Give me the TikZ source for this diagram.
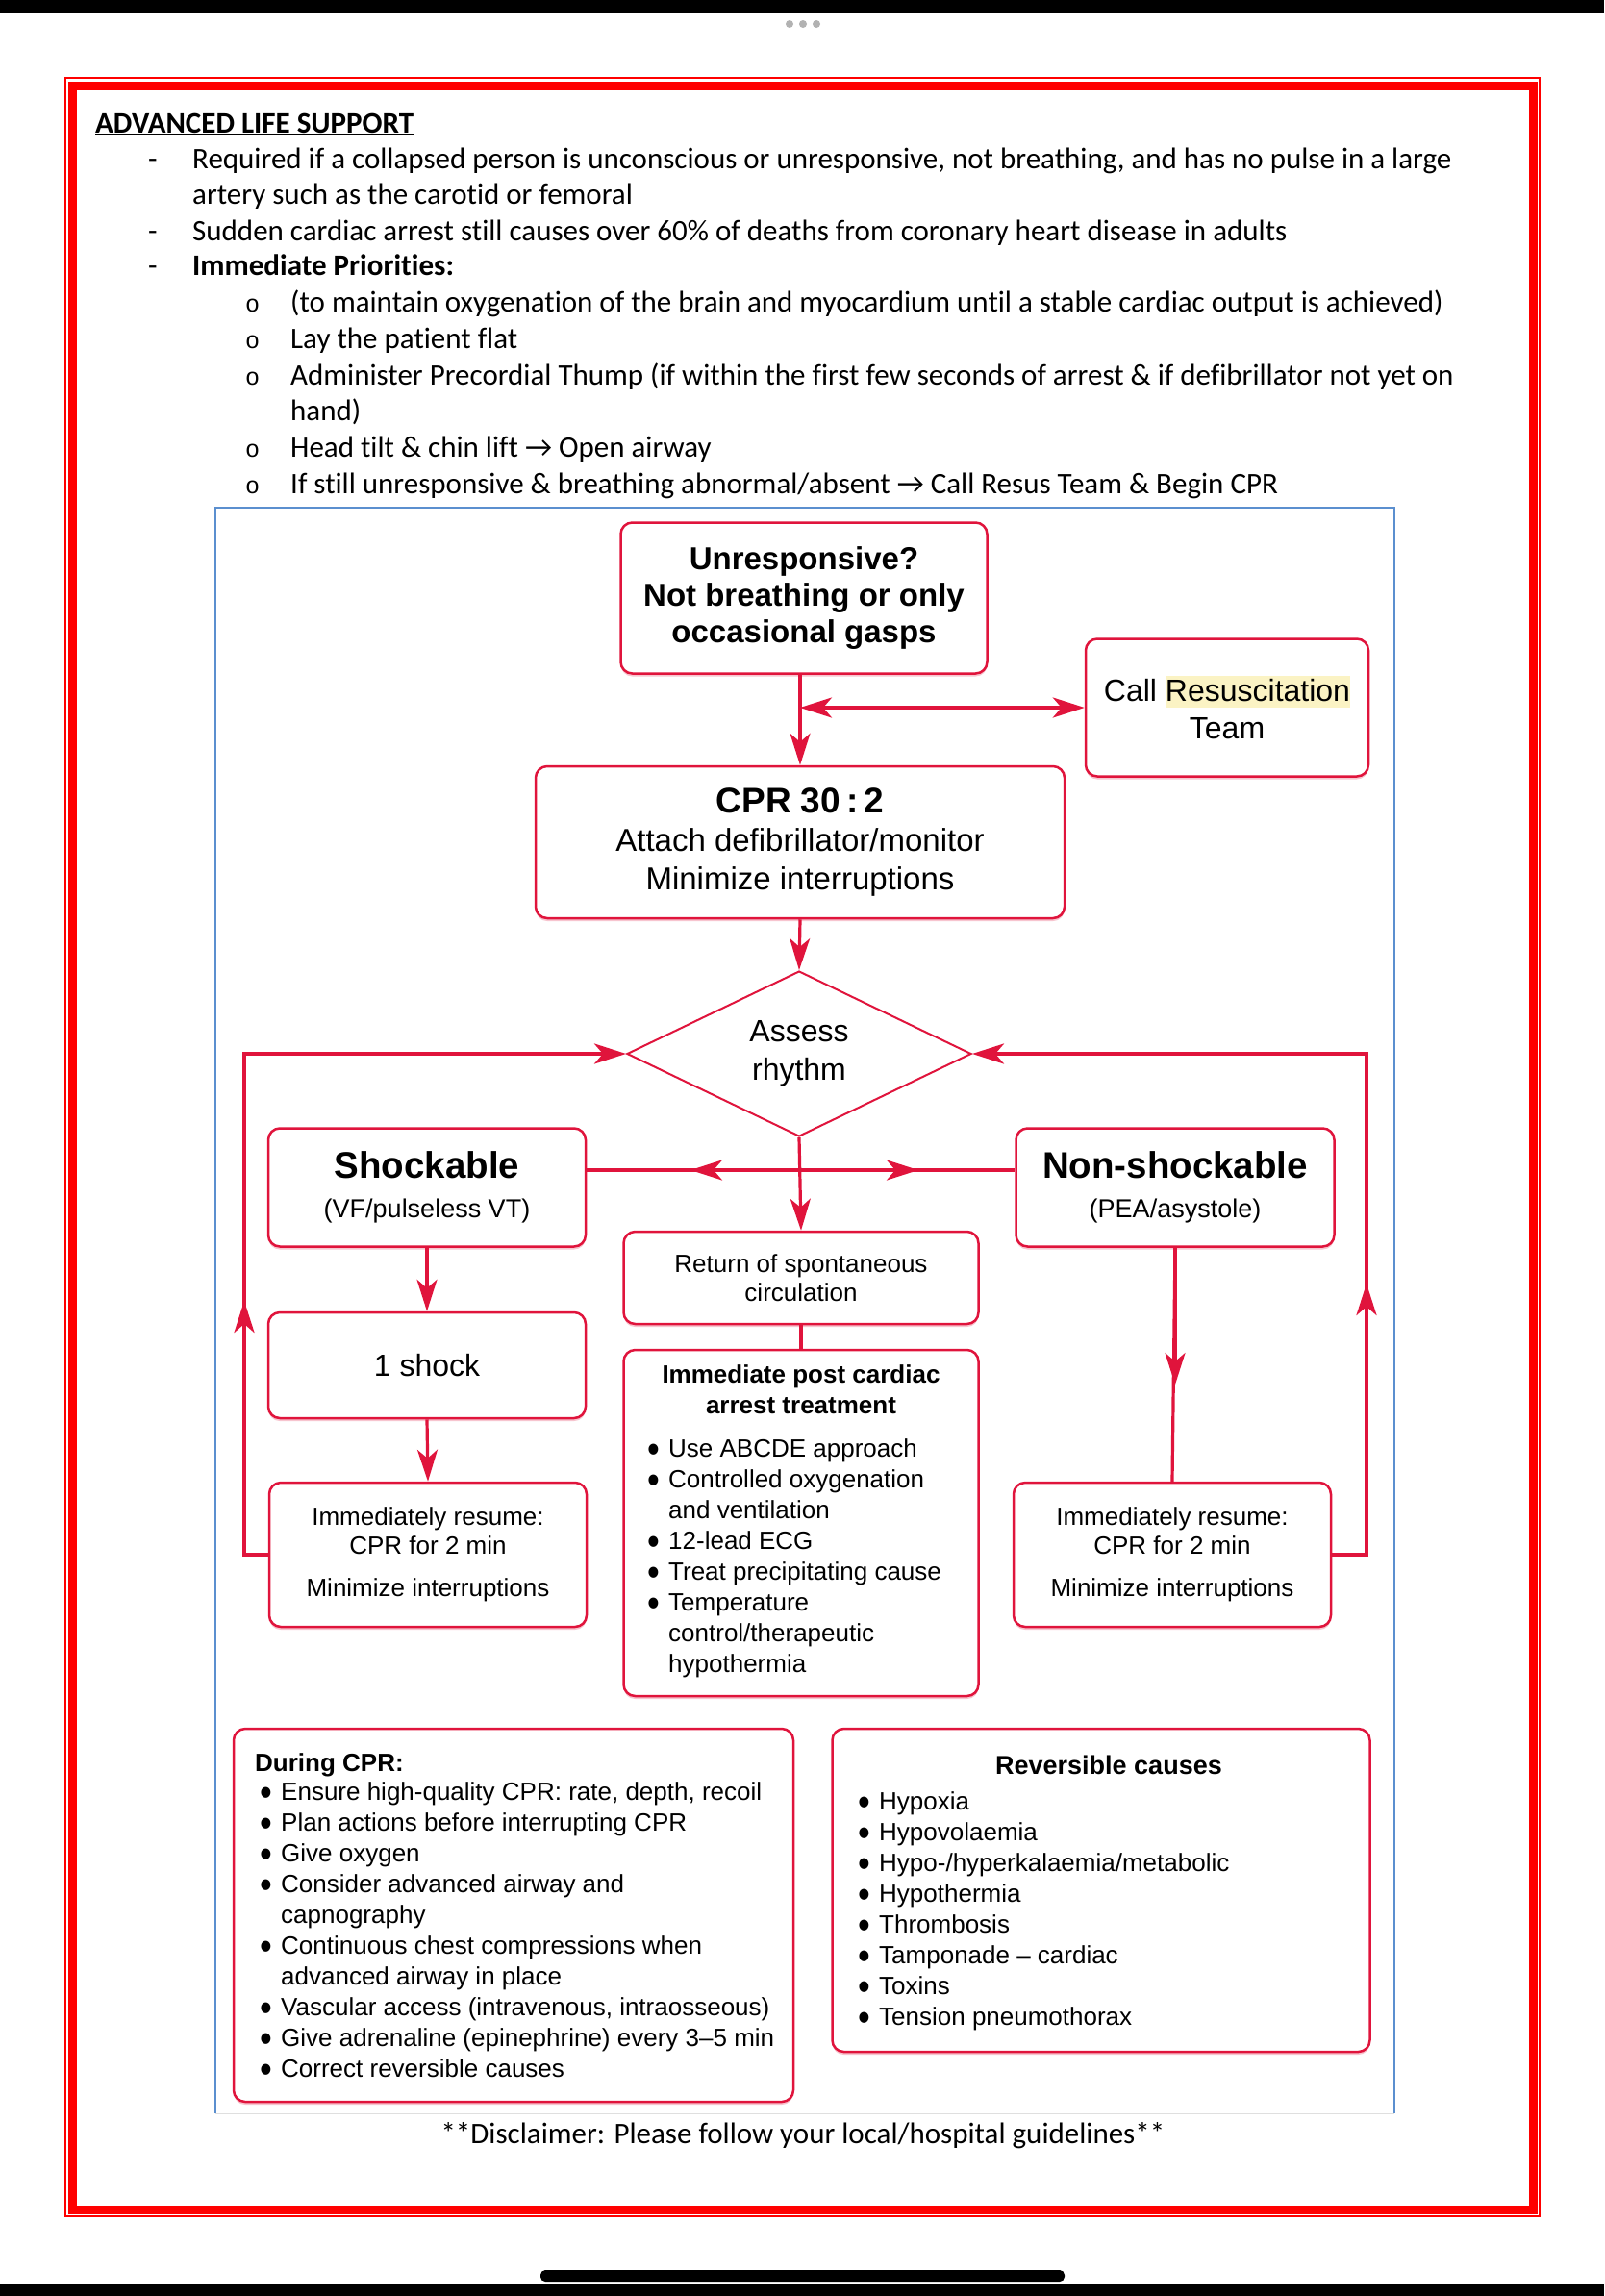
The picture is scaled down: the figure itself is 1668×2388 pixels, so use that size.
\documentclass[tikz,border=0pt]{standalone}
\usepackage{fontspec}
\setmainfont{Carlito}[Ligatures={TeX,NoCommon}]
\newfontfamily\helv{Liberation Sans}
\newfontfamily\mono{Liberation Mono}
\usetikzlibrary{arrows.meta,shapes.geometric,shadows}
\definecolor{algred}{HTML}{E0143C}
\definecolor{pagered}{HTML}{FF0000}
\definecolor{figblue}{HTML}{5B8FCF}
\definecolor{marker}{HTML}{FBF3C4}
\newcommand{\flowbul}{\makebox[22pt][l]{\raisebox{-6pt}{\scalebox{1.4}[1.6]{\textbullet}}}}
\newcommand{\flowind}{\hspace*{22pt}}

\begin{document}
\begin{tikzpicture}[x=1pt, y=-1pt,
  >={Stealth[length=33pt, width=21pt, inset=9pt]},
  bodytext/.style={anchor=base west, inner sep=0pt, font=\fontsize{31}{37}\selectfont},
  box/.style={draw=algred, fill=white, line width=2.5pt, rounded corners=12pt, align=center, inner sep=0pt,
    drop shadow={shadow xshift=0pt, shadow yshift=-3pt, fill=algred!35, opacity=0.7},
    font=\helv\fontsize{26}{30}\selectfont},
  listtext/.style={anchor=base west, inner sep=0pt, font=\helv\fontsize{26}{32}\selectfont},
  wire/.style={draw=algred, line width=3.2pt},
  loopwire/.style={draw=algred, line width=4pt}]
\useasboundingbox (0,0) rectangle (1668,2388);

% Screen
\fill[white] (0,0) rectangle (1668,2388);
\fill[black] (0,0) rectangle (1668,14);
\fill[black] (0,2375) rectangle (1668,2388);
\fill[black, rounded corners=5pt] (562,2361) rectangle (1107,2373);
\foreach \dx in {-14,0,14}
  \fill[gray!60] (835+\dx,25) circle[radius=4pt];

% Page frame
\draw[pagered, line width=1.5pt] (68,81) rectangle (1601,2305);
\draw[pagered, line width=9pt] (75,89) rectangle (1594,2298);

% Notes
\node[bodytext, font=\bfseries\fontsize{31}{37}\selectfont] (als-title) at (99,138) {\underline{ADVANCED LIFE SUPPORT}};
\node[bodytext] (dash-1) at (154,175) {-};
\node[bodytext] (dash-2) at (154,250) {-};
\node[bodytext] (dash-3) at (154,286) {-};
\node[bodytext] (required) at (200,175) {Required if a collapsed person is unconscious or unresponsive, not breathing, and has no pulse in a large};
\node[bodytext] (required-2) at (200,212) {artery such as the carotid or femoral};
\node[bodytext] (sudden) at (200,250) {Sudden cardiac arrest still causes over 60\% of deaths from coronary heart disease in adults};
\node[bodytext, font=\bfseries\fontsize{31}{37}\selectfont] (priorities) at (200,286) {Immediate Priorities:};
\node[bodytext, font=\mono\fontsize{25}{37}\selectfont] (o-1) at (255,324) {o};
\node[bodytext, font=\mono\fontsize{25}{37}\selectfont] (o-2) at (255,362) {o};
\node[bodytext, font=\mono\fontsize{25}{37}\selectfont] (o-3) at (255,400) {o};
\node[bodytext, font=\mono\fontsize{25}{37}\selectfont] (o-4) at (255,475) {o};
\node[bodytext, font=\mono\fontsize{25}{37}\selectfont] (o-5) at (255,513) {o};
\node[bodytext] (maintain) at (302,324) {(to maintain oxygenation of the brain and myocardium until a stable cardiac output is achieved)};
\node[bodytext] (lay-flat) at (302,362) {Lay the patient flat};
\node[bodytext] (thump) at (302,400) {Administer Precordial Thump (if within the first few seconds of arrest \& if defibrillator not yet on};
\node[bodytext] (thump-2) at (302,437) {hand)};
\node[bodytext] (airway) at (302,475) {Head tilt \& chin lift → Open airway};
\node[bodytext] (resus) at (302,513) {If still unresponsive \& breathing abnormal/absent → Call Resus Team \& Begin CPR};

% Figure frame
\draw[figblue, line width=1.5pt] (224,2198) -- (224,528) -- (1450,528) -- (1450,2198);
\draw[gray!25, line width=1pt] (224,2198) -- (1450,2198);

% Boxes
\node[box, minimum width=381pt, minimum height=157pt, font=\helv\bfseries\fontsize{33}{38}\selectfont] (unresp) at (836,622) {Unresponsive?\\Not breathing or only\\occasional gasps};
\node[box, minimum width=294pt, minimum height=143pt, font=\helv\fontsize{32}{39}\selectfont] (call) at (1276,736) {Call {\setlength{\fboxsep}{0pt}\colorbox{marker}{\rule[-7pt]{0pt}{33pt}Resuscitation}}\\Team};
\node[box, minimum width=550pt, minimum height=158pt, font=\helv\fontsize{33}{40}\selectfont] (cpr) at (832,876) {{\bfseries\fontsize{37}{40}\selectfont CPR 30\,:\,2}\\Attach defibrillator/monitor\\Minimize interruptions};
\node[diamond, draw=algred, line width=2pt, aspect=2.08, minimum width=358pt, minimum height=172pt, inner sep=0pt, align=center, font=\helv\fontsize{32}{40}\selectfont] (assess) at (831,1096) {Assess\\rhythm};
\node[box, minimum width=330pt, minimum height=123pt, font=\helv\fontsize{27}{33}\selectfont] (shock) at (444,1235) {{\bfseries\fontsize{38.5}{44}\selectfont Shockable}\\[8pt](VF/pulseless VT)};
\node[box, minimum width=331pt, minimum height=123pt, font=\helv\fontsize{27}{33}\selectfont] (nonshock) at (1222,1235) {{\bfseries\fontsize{38.5}{44}\selectfont Non-shockable}\\[8pt](PEA/asystole)};
\node[box, minimum width=369pt, minimum height=96pt] (rosc) at (833,1329) {Return of spontaneous\\circulation};
\node[box, minimum width=369pt, minimum height=360pt] (post) at (833,1584) {};
\node[box, minimum width=330pt, minimum height=110pt, font=\helv\fontsize{32}{38}\selectfont] (oneshock) at (444,1420) {1 shock};
\node[box, minimum width=330pt, minimum height=150pt] (resume-l) at (445,1617) {Immediately resume:\\CPR for 2 min\\[14pt]Minimize interruptions};
\node[box, minimum width=330pt, minimum height=150pt] (resume-r) at (1219,1617) {Immediately resume:\\CPR for 2 min\\[14pt]Minimize interruptions};
\node[box, minimum width=582pt, minimum height=388pt] (during) at (534,1992) {};
\node[box, minimum width=559pt, minimum height=336pt] (causes) at (1145,1966) {};

% Box texts
\node[listtext, anchor=base, font=\helv\bfseries\fontsize{26}{32}\selectfont] (post-title) at (833,1438) {\begin{tabular}[t]{@{}c@{}}Immediate post cardiac\\arrest treatment\end{tabular}};
\node[listtext] (post-list) at (673,1515) {\begin{tabular}[t]{@{}l@{}}
  \flowbul Use ABCDE approach\\
  \flowbul Controlled oxygenation\\
  \flowind and ventilation\\
  \flowbul 12-lead ECG\\
  \flowbul Treat precipitating cause\\
  \flowbul Temperature\\
  \flowind control/therapeutic\\
  \flowind hypothermia
\end{tabular}};
\node[listtext, font=\helv\bfseries\fontsize{26}{32}\selectfont] (during-title) at (265,1842) {During CPR:};
\node[listtext] (during-list) at (270,1872) {\begin{tabular}[t]{@{}l@{}}
  \flowbul Ensure high-quality CPR: rate, depth, recoil\\
  \flowbul Plan actions before interrupting CPR\\
  \flowbul Give oxygen\\
  \flowbul Consider advanced airway and\\
  \flowind capnography\\
  \flowbul Continuous chest compressions when\\
  \flowind advanced airway in place\\
  \flowbul Vascular access (intravenous, intraosseous)\\
  \flowbul Give adrenaline (epinephrine) every 3–5 min\\
  \flowbul Correct reversible causes
\end{tabular}};
\node[listtext, anchor=base, font=\helv\bfseries\fontsize{27}{32}\selectfont] (causes-title) at (1153,1845) {Reversible causes};
\node[listtext] (causes-list) at (892,1882) {\begin{tabular}[t]{@{}l@{}}
  \flowbul Hypoxia\\
  \flowbul Hypovolaemia\\
  \flowbul Hypo-/hyperkalaemia/metabolic\\
  \flowbul Hypothermia\\
  \flowbul Thrombosis\\
  \flowbul Tamponade – cardiac\\
  \flowbul Toxins\\
  \flowbul Tension pneumothorax
\end{tabular}};

% Arrows
\draw[wire, ->] (unresp.south -| cpr.north) -- (cpr.north);
\coordinate (call-join) at (cpr.north |- call.west);
\draw[wire, <->] (call-join) -- (call.west);
\draw[wire, ->] (cpr.south) -- (assess.north);
\draw[wire, ->] (assess.south) -- (rosc.north);
\coordinate (split) at (assess.south |- 0,1217);
\coordinate (split-l) at (718,1217);
\coordinate (split-r) at (955,1217);
\draw[wire] (shock.east |- split) -- (nonshock.west |- split);
\draw[wire, ->] (split) -- (split-l);
\draw[wire, ->] (split) -- (split-r);
\draw[wire, ->] (shock.south) -- (oneshock.north);
\draw[wire, ->] (oneshock.south) -- (resume-l.north);
\coordinate (nonshock-tip) at (nonshock.south |- 0,1440);
\draw[wire] (nonshock.south) -- (resume-r.north);
\draw[wire, ->] (nonshock.south) -- (nonshock-tip);
\draw[wire] (rosc.south) -- (post.north);

% Loops back to rhythm check
\coordinate (loop-l) at (254,1617);
\coordinate (loop-l-tip) at (254,1353);
\draw[loopwire, ->] (resume-l.west) -- (loop-l) |- (assess.west);
\draw[loopwire, ->] (loop-l) -- (loop-l-tip);
\coordinate (loop-r) at (1421,1617);
\coordinate (loop-r-tip) at (1421,1335);
\draw[loopwire, ->] (resume-r.east) -- (loop-r) |- (assess.east);
\draw[loopwire, ->] (loop-r) -- (loop-r-tip);

% Footer
\node[anchor=base, inner sep=0pt, font=\fontsize{31}{37}\selectfont] (disclaimer) at (835,2229) {**Disclaimer: Please follow your local/hospital guidelines**};
\end{tikzpicture}
\end{document}
